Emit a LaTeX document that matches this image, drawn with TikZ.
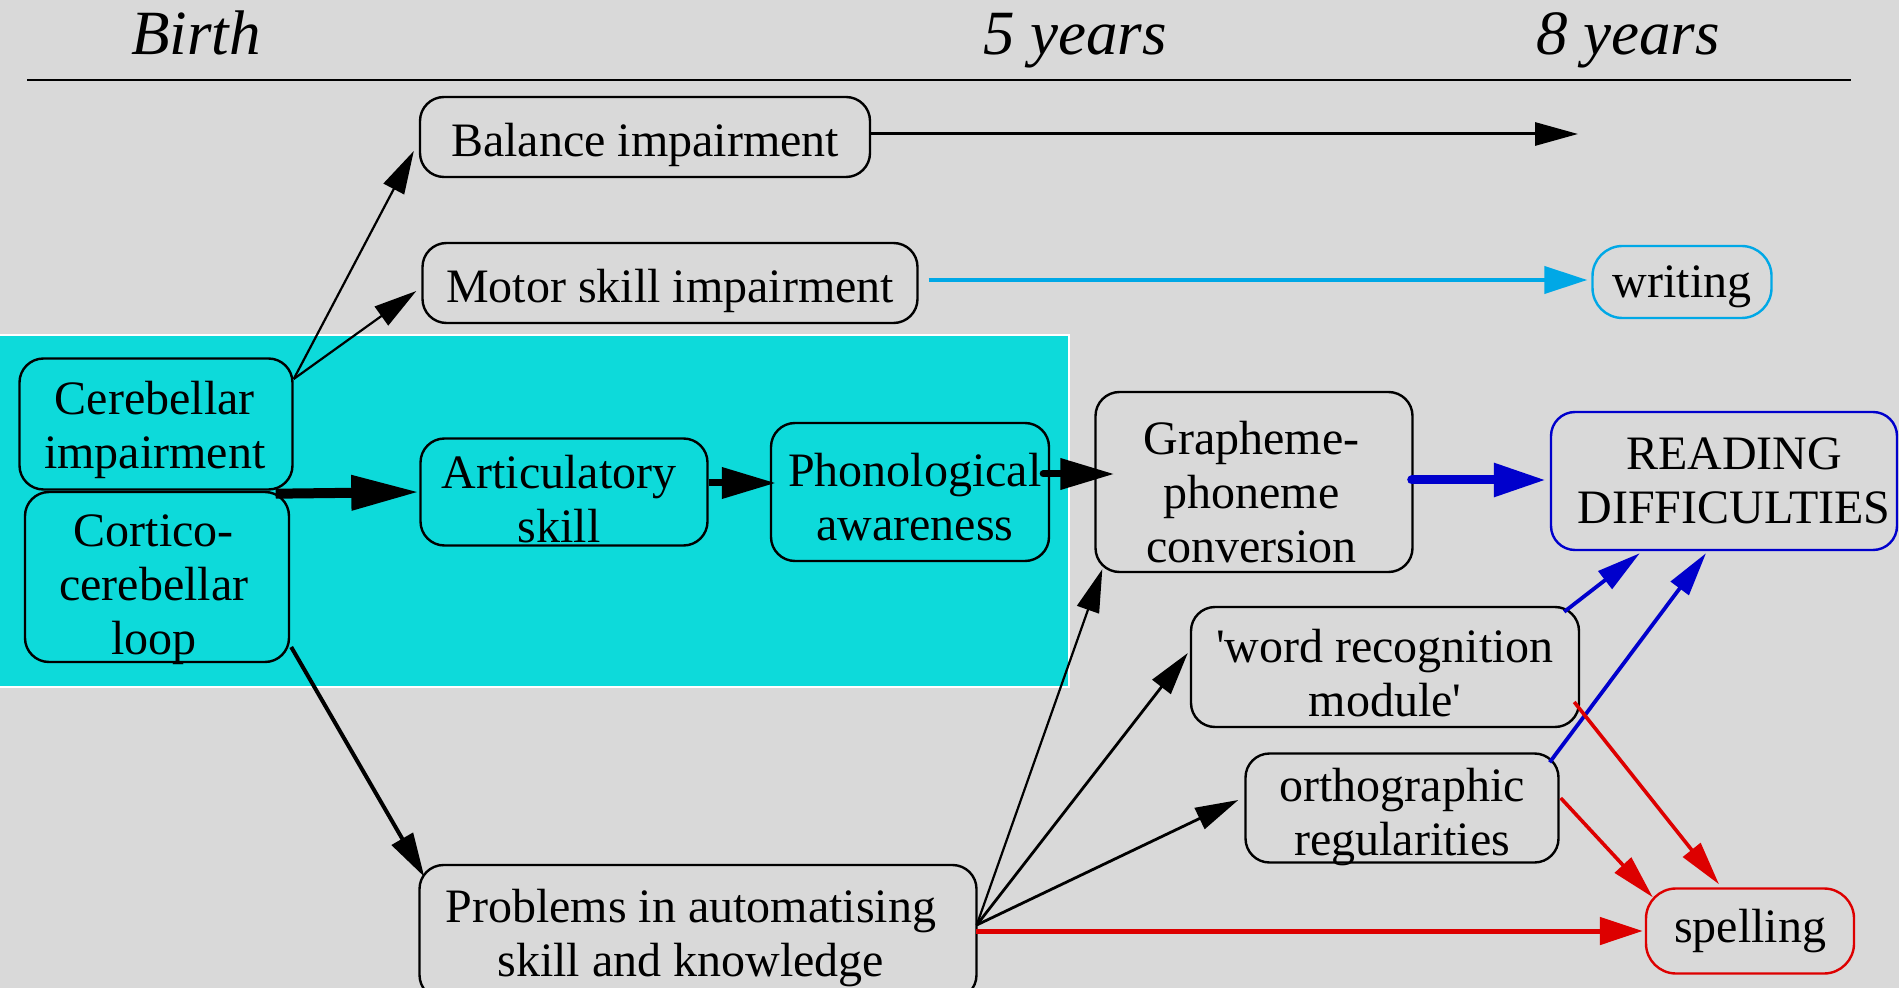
\documentclass[tikz,border=0pt]{standalone}
\usepackage{fontspec}
\setmainfont{Liberation Serif}
\usetikzlibrary{arrows.meta,calc}
\definecolor{bggray}{RGB}{217,217,217}
\definecolor{cyanbox}{RGB}{13,218,218}
\definecolor{wblue}{RGB}{0,168,230}
\definecolor{rblue}{RGB}{0,0,204}
\definecolor{sred}{RGB}{221,0,0}
\begin{document}
\begin{tikzpicture}[x=0.5pt,y=-0.5pt,
  box/.style={draw=black,line width=1.2pt,rounded corners=12pt,inner sep=0pt},
  tl/.style={align=center,inner sep=0pt,font=\fontsize{24}{27}\selectfont},
  sz/.style n args={2}{minimum width=#1,minimum height=#2},
  hd/.style={anchor=base,inner sep=0pt,font=\itshape\fontsize{31.5}{36}\selectfont},
  thinarr/.style={-{Triangle[length=21.5pt,width=11.5pt]}},
  thickarr/.style={-{Triangle[length=34pt,width=16.5pt]}},
  midarr/.style={-{Triangle[length=27pt,width=15pt]}},
]
\useasboundingbox (0,0) rectangle (1899,988);
\fill[bggray] (0,0) rectangle (1899,988);
\clip (0,0) rectangle (1899,988);

% timeline
\node[hd] (birth) at (196,55) {Birth};
\node[hd] (five) at (1075,55) {5 years};
\node[hd] (eight) at (1628,55) {8 years};
\coordinate (tl) at (27,80);
\coordinate (tr) at (1851,80);
\draw[line width=1.3pt] (tl) -- (tr);

% cyan area
\filldraw[fill=cyanbox,draw=white,line width=1.2pt] (-5,335) rectangle (1069,687);

% nodes
\node[box,sz={225pt}{40pt},label={[tl,yshift=-4.2pt]center:Balance impairment}] (bal) at (645,137) {};
\node[box,sz={247.5pt}{40pt},label={[tl,yshift=-4.2pt]center:Motor skill impairment}] (mot) at (670,283) {};
\node[box,draw=wblue,rounded corners=15pt,sz={89.5pt}{36pt},label={[tl,yshift=-2.4pt]center:writing}] (wri) at (1682,282) {};
\node[box,sz={136.5pt}{65.5pt},label={[tl,yshift=-3pt,xshift=-0.6pt]center:Cerebellar\\impairment}] (cer) at (156,424) {};
\node[box,sz={132pt}{85pt},label={[tl,yshift=-6.4pt,xshift=-1.6pt]center:Cortico-\\cerebellar\\loop}] (cor) at (157,577) {};
\node[box,sz={143.5pt}{53.5pt},label={[tl,yshift=-3.6pt,xshift=-2.4pt]center:Articulatory\\skill}] (art) at (564,492) {};
\node[box,sz={139pt}{69pt},label={[tl,yshift=-2.7pt,xshift=2.4pt]center:Phonological\\awareness}] (pho) at (910,492) {};
\node[box,sz={158.5pt}{90pt},label={[tl,yshift=-4.8pt,xshift=-1.2pt]center:Grapheme-\\phoneme\\conversion}] (gra) at (1254,482) {};
\node[box,draw=rblue,sz={173pt}{69pt},label={[tl,xshift=5pt]center:READING\\DIFFICULTIES}] (rea) at (1724,481) {};
\node[box,sz={194pt}{60pt},label={[tl,yshift=-3pt]center:\textquotesingle word recognition\\module\textquotesingle}] (wor) at (1385,667) {};
\node[box,sz={156.5pt}{54.5pt},label={[tl,yshift=-4.5pt]center:orthographic\\regularities}] (ort) at (1402,808) {};
\node[box,sz={278.5pt}{67pt},label={[tl,yshift=-3pt,xshift=-3.6pt]center:Problems in automatising\\skill and knowledge}] (pro) at (698,932) {};
\node[box,draw=sred,rounded corners=15pt,sz={104pt}{42.5pt},label={[tl]center:spelling}] (spe) at (1750,931) {};
\coordinate (balend) at (1578,134);

% connectors
\draw[thinarr,line width=1.1pt] ($(cer.east)+(0,-45)$) -- ($(bal.west)+(-5,14)$);
\draw[thinarr,line width=1.1pt] ($(cer.east)+(0,-45)$) -- ($(mot.west)+(-5,8)$);
\draw[thickarr,line width=5pt] ($(cer.south east)+(-18,3)$) -- (art.west);
\draw[midarr,line width=3.5pt] ($(art.east)+(0,-9)$) -- ($(pho.west)+(6,-9)$);
\draw[midarr,line width=3.5pt,line cap=round] ($(pho.east)+(-7,-18)$) -- ($(gra.west)+(20,-8)$);
\draw[-{Triangle[length=26pt,width=16pt]},line width=4.5pt,rblue,line cap=round] ($(gra.east)+(-2,-2)$) -- ($(rea.west)+(-4,-1)$);
\draw[thinarr,line width=1.5pt] ($(bal.east)+(0,-3)$) -- (balend);
\draw[-{Triangle[length=21.5pt,width=13.5pt]},line width=2pt,wblue] ($(mot.east)+(10,-3)$) -- ($(wri.west)+(-4,-2)$);
\draw[-{Triangle[length=22pt,width=12pt]},line width=2pt] ($(cor.east)+(1,70)$) -- ($(pro.north west)+(6,13)$);
\draw[thinarr,line width=1.1pt] ($(pro.east)+(-1,-7)$) -- ($(gra.south west)+(8,-4)$);
\draw[thinarr,line width=1.4pt] ($(pro.east)+(-1,-7)$) -- ($(wor.west)+(-2,-14)$);
\draw[thinarr,line width=1.4pt] ($(pro.east)+(-1,-7)$) -- ($(ort.west)+(-6,-8)$);
\draw[-{Triangle[length=21.5pt,width=13.5pt]},line width=2.5pt,sred] ($(pro.east)+(-2,-1)$) -- ($(spe.west)+(-2,0)$);
\draw[-{Triangle[length=22pt,width=11pt]},line width=1.9pt,rblue] ($(wor.north east)+(-16,6)$) -- ($(rea.south west)+(90,2)$);
\draw[-{Triangle[length=22pt,width=11pt]},line width=1.9pt,rblue] ($(ort.north east)+(-10,10)$) -- ($(rea.south)+(-18,2)$);
\draw[-{Triangle[length=22pt,width=11pt]},line width=1.8pt,sred] ($(wor.east)+(-6,35)$) -- ($(spe.north)+(-31,-3)$);
\draw[-{Triangle[length=22pt,width=11pt]},line width=1.8pt,sred] ($(ort.east)+(1,-10)$) -- ($(spe.north west)+(8,10)$);
\end{tikzpicture}
\end{document}
